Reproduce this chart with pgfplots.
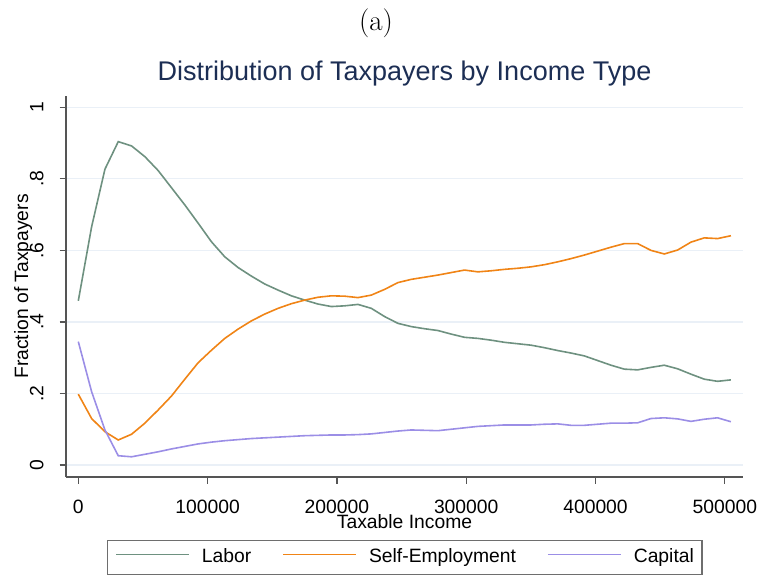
\documentclass[border=0pt]{standalone}
\usepackage{pgfplots}
\pgfplotsset{compat=1.18}
\usepackage{fontspec}
\newfontfamily\arial{Liberation Sans}
\definecolor{labor}{RGB}{110,145,128}
\definecolor{selfemp}{RGB}{240,132,22}
\definecolor{capital}{RGB}{155,142,230}
\definecolor{axisgray}{RGB}{85,85,85}
\definecolor{gridcol}{RGB}{234,240,247}
\definecolor{titlecol}{RGB}{28,46,84}
\definecolor{legendgray}{RGB}{110,110,110}
\pgfplotstableread{
x labor self capital
0 .459 .198 .345
10300 .666 .130 .205
20600 .827 .093 .098
30900 .904 .070 .026
41200 .892 .086 .023
51500 .862 .117 .030
61800 .823 .154 .037
72100 .775 .193 .045
82400 .727 .240 .052
92700 .676 .286 .059
103000 .624 .321 .064
113300 .582 .354 .068
123600 .552 .380 .071
133900 .528 .403 .074
144200 .506 .422 .076
154500 .489 .438 .078
164800 .473 .451 .080
175100 .461 .461 .082
185400 .450 .469 .083
195700 .443 .473 .084
206000 .445 .472 .084
216300 .449 .468 .085
226600 .438 .475 .087
236900 .415 .491 .091
247200 .396 .510 .095
257500 .387 .519 .098
267800 .381 .525 .097
278100 .376 .531 .096
288400 .366 .538 .100
298700 .357 .545 .104
309000 .354 .540 .108
319300 .349 .543 .110
329600 .343 .547 .112
339900 .339 .550 .112
350200 .335 .554 .112
360500 .328 .560 .114
370800 .320 .568 .115
381100 .313 .577 .111
391400 .305 .587 .111
401700 .292 .598 .114
412000 .279 .609 .117
422300 .268 .619 .117
432600 .266 .619 .118
442900 .273 .600 .130
453200 .279 .590 .132
463500 .269 .601 .129
473800 .254 .623 .122
484100 .240 .635 .128
494400 .234 .633 .132
504700 .238 .641 .121
}\datatable
\begin{document}
\begin{tikzpicture}[x=1pt,y=1pt]
\useasboundingbox (0,0) rectangle (759,576);
\node[anchor=base, inner sep=0pt, font=\fontsize{29}{30}\selectfont] at (376,545) {(a)};
\begin{axis}[
  at={(66pt,99pt)}, anchor=south west,
  scale only axis, width=677pt, height=381pt,
  xmin=-9513, xmax=514077, ymin=-0.0335, ymax=1.0316,
  axis x line*=bottom, axis y line*=left,
  axis line style={-, draw=axisgray, line width=1.3pt},
  tick align=outside, major tick length=6.5pt,
  every tick/.style={draw=axisgray, line width=1.3pt},
  xtick={0,100000,200000,300000,400000,500000},
  xticklabels={0,100000,200000,300000,400000,500000},
  ytick={0,0.2,0.4,0.6,0.8,1},
  yticklabels={0,.2,.4,.6,.8,1},
  minor tick num=0,
  every tick label/.append style={font=\arial\fontsize{19.3}{22}\selectfont, text=black},
  xticklabel style={anchor=base, inner sep=0pt, yshift=-30pt},
  yticklabel style={xshift=-16pt, rotate=90, anchor=base, inner sep=0pt},
  ymajorgrids, grid style={draw=gridcol, line width=1.2pt},
  title={Distribution of Taxpayers by Income Type},
  title style={at={(0.5,1.0262)}, anchor=base, inner sep=0pt, font=\arial\fontsize{27}{30}\selectfont, text=titlecol},
  xlabel={Taxable Income},
  xlabel style={at={(0.5,-0.1339)}, anchor=base, inner sep=0pt, font=\arial\fontsize{19.3}{22}\selectfont},
  ylabel={Fraction of Taxpayers},
  ylabel style={at={(-0.0561,0.5)}, anchor=base, inner sep=0pt, font=\arial\fontsize{19.3}{22}\selectfont},
  legend columns=3,
  legend style={at={(0.5,-0.2113)}, anchor=center, draw=legendgray, line width=1.2pt,
    font=\arial\fontsize{19.3}{22}\selectfont, inner xsep=8pt, inner ysep=8pt,
    nodes={inner sep=0pt, text height=14pt, text depth=4pt},
    /tikz/every odd column/.append style={column sep=12pt},
    /tikz/every even column/.append style={column sep=31pt}},
  legend image code/.code={\draw[#1, line width=1.8pt] (0pt,3pt) -- (73pt,3pt);},
  clip=false,
]
\addplot[labor, line width=1.6pt] table[x=x, y=labor] {\datatable};
\addlegendentry{Labor}
\addplot[selfemp, line width=1.6pt] table[x=x, y=self] {\datatable};
\addlegendentry{Self-Employment}
\addplot[capital, line width=1.6pt] table[x=x, y=capital] {\datatable};
\addlegendentry{Capital}
\end{axis}
\end{tikzpicture}
\end{document}
